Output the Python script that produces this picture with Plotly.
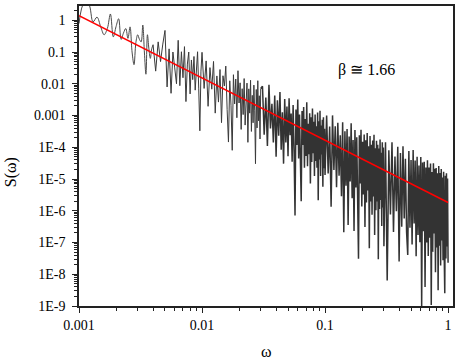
import plotly.graph_objects as go

# ---------------- data ----------------
omega_a = [0.0010, 0.0011, 0.0012, 0.0013, 0.0014, 0.0015, 0.0016, 0.0017, 0.0018, 0.0019,
           0.0020, 0.0021, 0.0022, 0.0023, 0.0024, 0.0025, 0.0026, 0.0027, 0.0028, 0.0029,
           0.0030, 0.0031, 0.0032, 0.0033, 0.0034, 0.0035, 0.0036, 0.0037, 0.0038, 0.0039, 0.0040]
s_a = [0.79, 3.5, 3.2, 0.89, 1.26, 0.63, 0.35, 0.55, 1.58, 0.30,
       0.63, 1.12, 0.25, 0.40, 0.55, 0.27, 0.62, 0.10, 0.040, 0.20,
       0.35, 0.25, 0.21, 0.71, 0.10, 0.020, 0.35, 0.126, 0.063, 0.126, 0.17]

omega_b = [0.0042, 0.0044, 0.0046, 0.0048, 0.0050, 0.0052, 0.0054, 0.0056, 0.0058, 0.0060,
           0.0062, 0.0064, 0.0066, 0.0068, 0.0070, 0.0072, 0.0074, 0.0076, 0.0078, 0.0080,
           0.0082, 0.0084, 0.0086, 0.0088, 0.0090, 0.0092, 0.0094, 0.0096, 0.0098, 0.0100]
s_b = [0.025, 0.209, 0.0501, 0.178, 0.479, 0.00794, 0.126, 0.00501, 0.1, 0.0316,
       0.01, 0.234, 0.0087, 0.102, 0.0155, 0.148, 0.00275, 0.0417, 0.1, 0.00479,
       0.0562, 0.0135, 0.0724, 0.0063, 0.038, 0.102, 0.0069, 0.00033, 0.025, 0.098]

omega_c = [0.0104, 0.0108, 0.0112, 0.0116, 0.0120, 0.0124, 0.0128, 0.0132, 0.0136, 0.0140,
           0.0144, 0.0148, 0.0152, 0.0156, 0.0160, 0.0164, 0.0168, 0.0172, 0.0176, 0.0180,
           0.0184, 0.0188, 0.0192, 0.0196, 0.0200, 0.0204, 0.0208, 0.0212, 0.0216, 0.0220,
           0.0224, 0.0228, 0.0232, 0.0236, 0.0240, 0.0244, 0.0248, 0.0252, 0.0256, 0.0260,
           0.0264, 0.0268, 0.0272, 0.0276, 0.0280, 0.0284, 0.0288, 0.0292, 0.0296, 0.0300]
s_c = [7.13e-3, 5.25e-2, 1.95e-3, 3.23e-2, 6.76e-3, 5.05e-2, 1.19e-3, 1.77e-2, 2.65e-3, 2.81e-2,
       5.96e-4, 1.79e-2, 8.49e-3, 3.61e-2, 1.53e-3, 1.46e-4, 1.24e-2, 2.11e-3, 8.02e-5, 1.93e-2,
       2.32e-3, 1.41e-2, 8.51e-4, 2.58e-2, 2.48e-3, 1.07e-2, 3.65e-4, 7.0e-3, 1.07e-3, 1.46e-2,
       5.0e-4, 4.82e-3, 1.05e-2, 1.43e-4, 6.92e-3, 1.19e-3, 1.29e-2, 3.15e-4, 4.32e-3, 5.9e-4,
       9.08e-3, 1.4e-3, 3.04e-5, 6.61e-3, 4.06e-4, 1.25e-2, 6.82e-4, 4.19e-3, 1.82e-4, 7.06e-3]

omega_d = [0.031, 0.032, 0.033, 0.034, 0.035, 0.036, 0.037, 0.038, 0.039, 0.040,
           0.041, 0.042, 0.043, 0.044, 0.045, 0.046, 0.047, 0.048, 0.049, 0.050,
           0.051, 0.052, 0.053, 0.054, 0.055, 0.056, 0.057, 0.058, 0.059, 0.060,
           0.061, 0.062, 0.063, 0.064, 0.065, 0.066, 0.067, 0.068, 0.069, 0.070,
           0.071, 0.072, 0.073, 0.074, 0.075, 0.076, 0.077, 0.078, 0.079, 0.080,
           0.081, 0.082, 0.083, 0.084, 0.085, 0.086, 0.087, 0.088, 0.089, 0.090,
           0.091, 0.092, 0.093, 0.094, 0.095, 0.096, 0.097, 0.098, 0.099, 0.100]
s_d = [8.34e-3, 2.48e-4, 3.70e-3, 1.10e-4, 9.29e-3, 3.93e-4, 2.35e-3, 1.41e-4, 4.23e-3, 5.06e-5,
       3.04e-3, 2.31e-4, 5.52e-3, 8.38e-5, 1.27e-3, 3.05e-5, 3.29e-3, 1.41e-4, 1.91e-3, 5.18e-5,
       3.52e-3, 2.40e-4, 1.16e-3, 3.53e-5, 2.15e-3, 8.26e-5, 7.11e-7, 1.54e-3, 1.18e-4, 3.22e-3,
       4.41e-5, 1.07e-3, 5.21e-5, 2.01e-6, 1.38e-3, 1.19e-4, 1.84e-3, 2.25e-5, 7.74e-4, 5.33e-5,
       2.60e-3, 2.53e-5, 5.51e-4, 6.03e-5, 1.17e-3, 7.19e-6, 8.83e-4, 3.43e-5, 1.67e-3, 6.50e-5,
       6.35e-4, 1.24e-5, 1.08e-3, 3.73e-5, 4.59e-4, 2.25e-5, 1.24e-3, 2.15e-6, 6.64e-4, 4.10e-5,
       1.42e-3, 1.24e-5, 4.84e-4, 5.97e-5, 7.36e-4, 5.73e-6, 8.89e-4, 2.19e-5, 3.82e-4, 1.33e-5]

omega_e = [0.103, 0.106, 0.109, 0.112, 0.115, 0.118, 0.121, 0.124, 0.127, 0.130,
           0.133, 0.136, 0.139, 0.142, 0.145, 0.148, 0.151, 0.154, 0.157, 0.160,
           0.163, 0.166, 0.169, 0.172, 0.175, 0.178, 0.181, 0.184, 0.187, 0.190,
           0.193, 0.196, 0.199, 0.202, 0.205, 0.208, 0.211, 0.214, 0.217, 0.220,
           0.223, 0.226, 0.229, 0.232, 0.235, 0.238, 0.241, 0.244, 0.247, 0.250,
           0.253, 0.256, 0.259, 0.262, 0.265, 0.268, 0.271, 0.274, 0.277, 0.280,
           0.283, 0.286, 0.289, 0.292, 0.295, 0.298, 0.301]
s_e = [9.95e-4, 1.49e-5, 4.47e-4, 1.34e-6, 1.01e-3, 1.91e-5, 4.57e-4, 5.50e-6, 5.87e-4, 1.26e-5,
       2.40e-4, 2.89e-6, 6.19e-4, 2.11e-7, 3.21e-4, 6.15e-6, 3.73e-4, 3.59e-7, 2.18e-4, 8.36e-6,
       5.70e-4, 2.46e-6, 1.68e-4, 2.30e-7, 3.52e-4, 5.38e-6, 2.07e-4, 3.18e-6, 3.08e-8, 2.38e-4,
       7.28e-6, 3.54e-4, 1.37e-6, 1.49e-4, 3.24e-6, 2.51e-4, 3.06e-7, 1.67e-4, 1.83e-6, 2.82e-4,
       4.36e-6, 1.07e-4, 6.56e-8, 2.26e-4, 1.97e-6, 1.21e-4, 7.46e-7, 1.63e-4, 2.83e-6, 2.47e-4,
       1.71e-7, 9.38e-5, 1.03e-6, 1.59e-4, 1.96e-6, 1.21e-4, 2.97e-8, 9.20e-5, 1.13e-6, 1.76e-4,
       2.17e-6, 6.71e-5, 3.30e-7, 1.44e-4, 1.26e-6, 9.82e-5, 7.64e-8]

omega_f = [0.31, 0.32, 0.33, 0.34, 0.35, 0.36, 0.37, 0.38, 0.39, 0.40,
           0.41, 0.42, 0.43, 0.44, 0.45, 0.46, 0.47, 0.48, 0.49, 0.50,
           0.51, 0.52, 0.53, 0.54, 0.55, 0.56, 0.57, 0.58, 0.59, 0.60,
           0.61, 0.62, 0.63, 0.64, 0.65, 0.66, 0.67, 0.68, 0.69, 0.70,
           0.71, 0.72, 0.73, 0.74, 0.75, 0.76, 0.77, 0.78, 0.79, 0.80,
           0.81, 0.82, 0.83, 0.84, 0.85, 0.86, 0.87, 0.88, 0.89, 0.90,
           0.91, 0.92, 0.93, 0.94, 0.95, 0.96, 0.97, 0.98, 0.99, 1.00]
s_f = [1.44e-4, 6.32e-9, 8.04e-5, 7.59e-7, 1.43e-4, 2.14e-7, 5.11e-5, 9.66e-7, 1.03e-4, 2.52e-8,
       6.61e-5, 3.16e-7, 1.07e-4, 5.75e-7, 4.38e-5, 2.10e-7, 4.02e-8, 7.69e-5, 2.94e-7, 3.99e-5,
       8.59e-8, 8.26e-5, 3.99e-7, 3.85e-5, 3.72e-8, 5.06e-5, 1.73e-7, 2.65e-5, 1.02e-7, 4.95e-5,
       1.00e-9, 3.29e-5, 2.26e-7, 3.47e-5, 3.95e-9, 2.31e-5, 1.00e-7, 3.88e-5, 3.77e-8, 2.31e-5,
       1.42e-7, 3.09e-5, 1.07e-9, 1.65e-5, 5.07e-8, 3.12e-5, 1.92e-7, 2.10e-5, 1.15e-8, 2.24e-5,
       6.92e-8, 1.51e-5, 3.15e-9, 2.56e-5, 7.92e-8, 1.55e-5, 1.90e-8, 2.08e-5, 1.15e-7, 1.12e-5,
       2.75e-8, 1.70e-5, 4.19e-8, 2.53e-9, 1.27e-5, 3.13e-8, 1.53e-5, 7.53e-8, 1.04e-5, 2.29e-8]

# fitted power law (red line) end points
fit_omega = [0.001, 1.0]
fit_s = [1.41, 1.82e-6]

x_tick_vals = [0.001, 0.01, 0.1, 1]
x_tick_text = ["0.001", "0.01", "0.1", "1"]
y_tick_vals = [1, 0.1, 0.01, 0.001, 1e-4, 1e-5, 1e-6, 1e-7, 1e-8, 1e-9]
y_tick_text = ["1", "0.1", "0.01", "0.001", "1E-4", "1E-5", "1E-6", "1E-7", "1E-8", "1E-9"]
beta_label = "β ≅ 1.66"

# ---------------- figure ----------------
SERIF = "Times New Roman, Liberation Serif, serif"
AXC = "#222222"

minor_x = [m * 10.0 ** e for e in range(-3, 0) for m in range(2, 10)]
minor_y = [m * 10.0 ** e for e in range(-9, 1) for m in range(2, 10) if m * 10.0 ** e < 2.8]

fig = go.Figure()
fig.add_trace(go.Scatter(
    x=omega_a, y=s_a, mode="lines",
    line=dict(color="#4a4a4a", width=1.0, shape="spline", smoothing=1.0),
    hoverinfo="skip", showlegend=False))

omega_mid = [omega_a[-1]] + omega_b + omega_c
s_mid = [s_a[-1]] + s_b + s_c
fig.add_trace(go.Scatter(
    x=omega_mid, y=s_mid, mode="lines",
    line=dict(color="#3a3a3a", width=1.0),
    hoverinfo="skip", showlegend=False))

omega_high = [omega_c[-1]] + omega_d + omega_e + omega_f
s_high = [s_c[-1]] + s_d + s_e + s_f
fig.add_trace(go.Scatter(
    x=omega_high, y=s_high, mode="lines",
    line=dict(color="#333333", width=1.5),
    hoverinfo="skip", showlegend=False))

fig.add_trace(go.Scatter(
    x=fit_omega, y=fit_s, mode="lines",
    line=dict(color="#ff0000", width=1.5),
    hoverinfo="skip", showlegend=False))

fig.update_layout(
    width=459, height=360,
    margin=dict(l=79, r=4, t=4, b=54),
    paper_bgcolor="white", plot_bgcolor="white",
    showlegend=False,
    font=dict(family=SERIF, size=14, color="black"),
    xaxis=dict(
        type="log", range=[-3, 0.04],
        tickmode="array", tickvals=x_tick_vals, ticktext=x_tick_text,
        ticks="outside", ticklen=5, tickwidth=1.2, tickcolor=AXC,
        showline=True, linecolor=AXC, linewidth=1.6, mirror=True,
        showgrid=False, zeroline=False,
        tickfont=dict(family=SERIF, size=14, color="black"),
        minor=dict(tickmode="array", tickvals=minor_x, ticks="outside",
                   ticklen=3, tickwidth=1, tickcolor=AXC, showgrid=False),
    ),
    yaxis=dict(
        type="log", range=[-9, 0.45],
        tickmode="array", tickvals=y_tick_vals, ticktext=y_tick_text,
        ticks="outside", ticklen=5, tickwidth=1.2, tickcolor=AXC,
        showline=True, linecolor=AXC, linewidth=1.6, mirror=True,
        showgrid=False, zeroline=False,
        tickfont=dict(family=SERIF, size=14, color="black"),
        ticklabelstandoff=4,
        minor=dict(tickmode="array", tickvals=minor_y, ticks="outside",
                   ticklen=3, tickwidth=1, tickcolor=AXC, showgrid=False),
    ),
    annotations=[
        dict(text="S(ω)", xref="paper", yref="paper", x=-0.18, y=0.445,
             xanchor="center", yanchor="middle", textangle=-90, showarrow=False,
             font=dict(family=SERIF, size=16, color="black")),
        dict(text="ω", xref="paper", yref="paper", x=0.5, y=-0.152,
             xanchor="center", yanchor="middle", showarrow=False,
             font=dict(family=SERIF, size=16, color="black")),
        dict(text=beta_label, xref="paper", yref="paper", x=0.769, y=0.788,
             xanchor="center", yanchor="middle", showarrow=False,
             font=dict(family=SERIF, size=16, color="black")),
    ],
)

fig.write_html("out.html",
               config={"displayModeBar": False},
               post_script="document.body.style.margin='0';document.body.style.padding='0';")
